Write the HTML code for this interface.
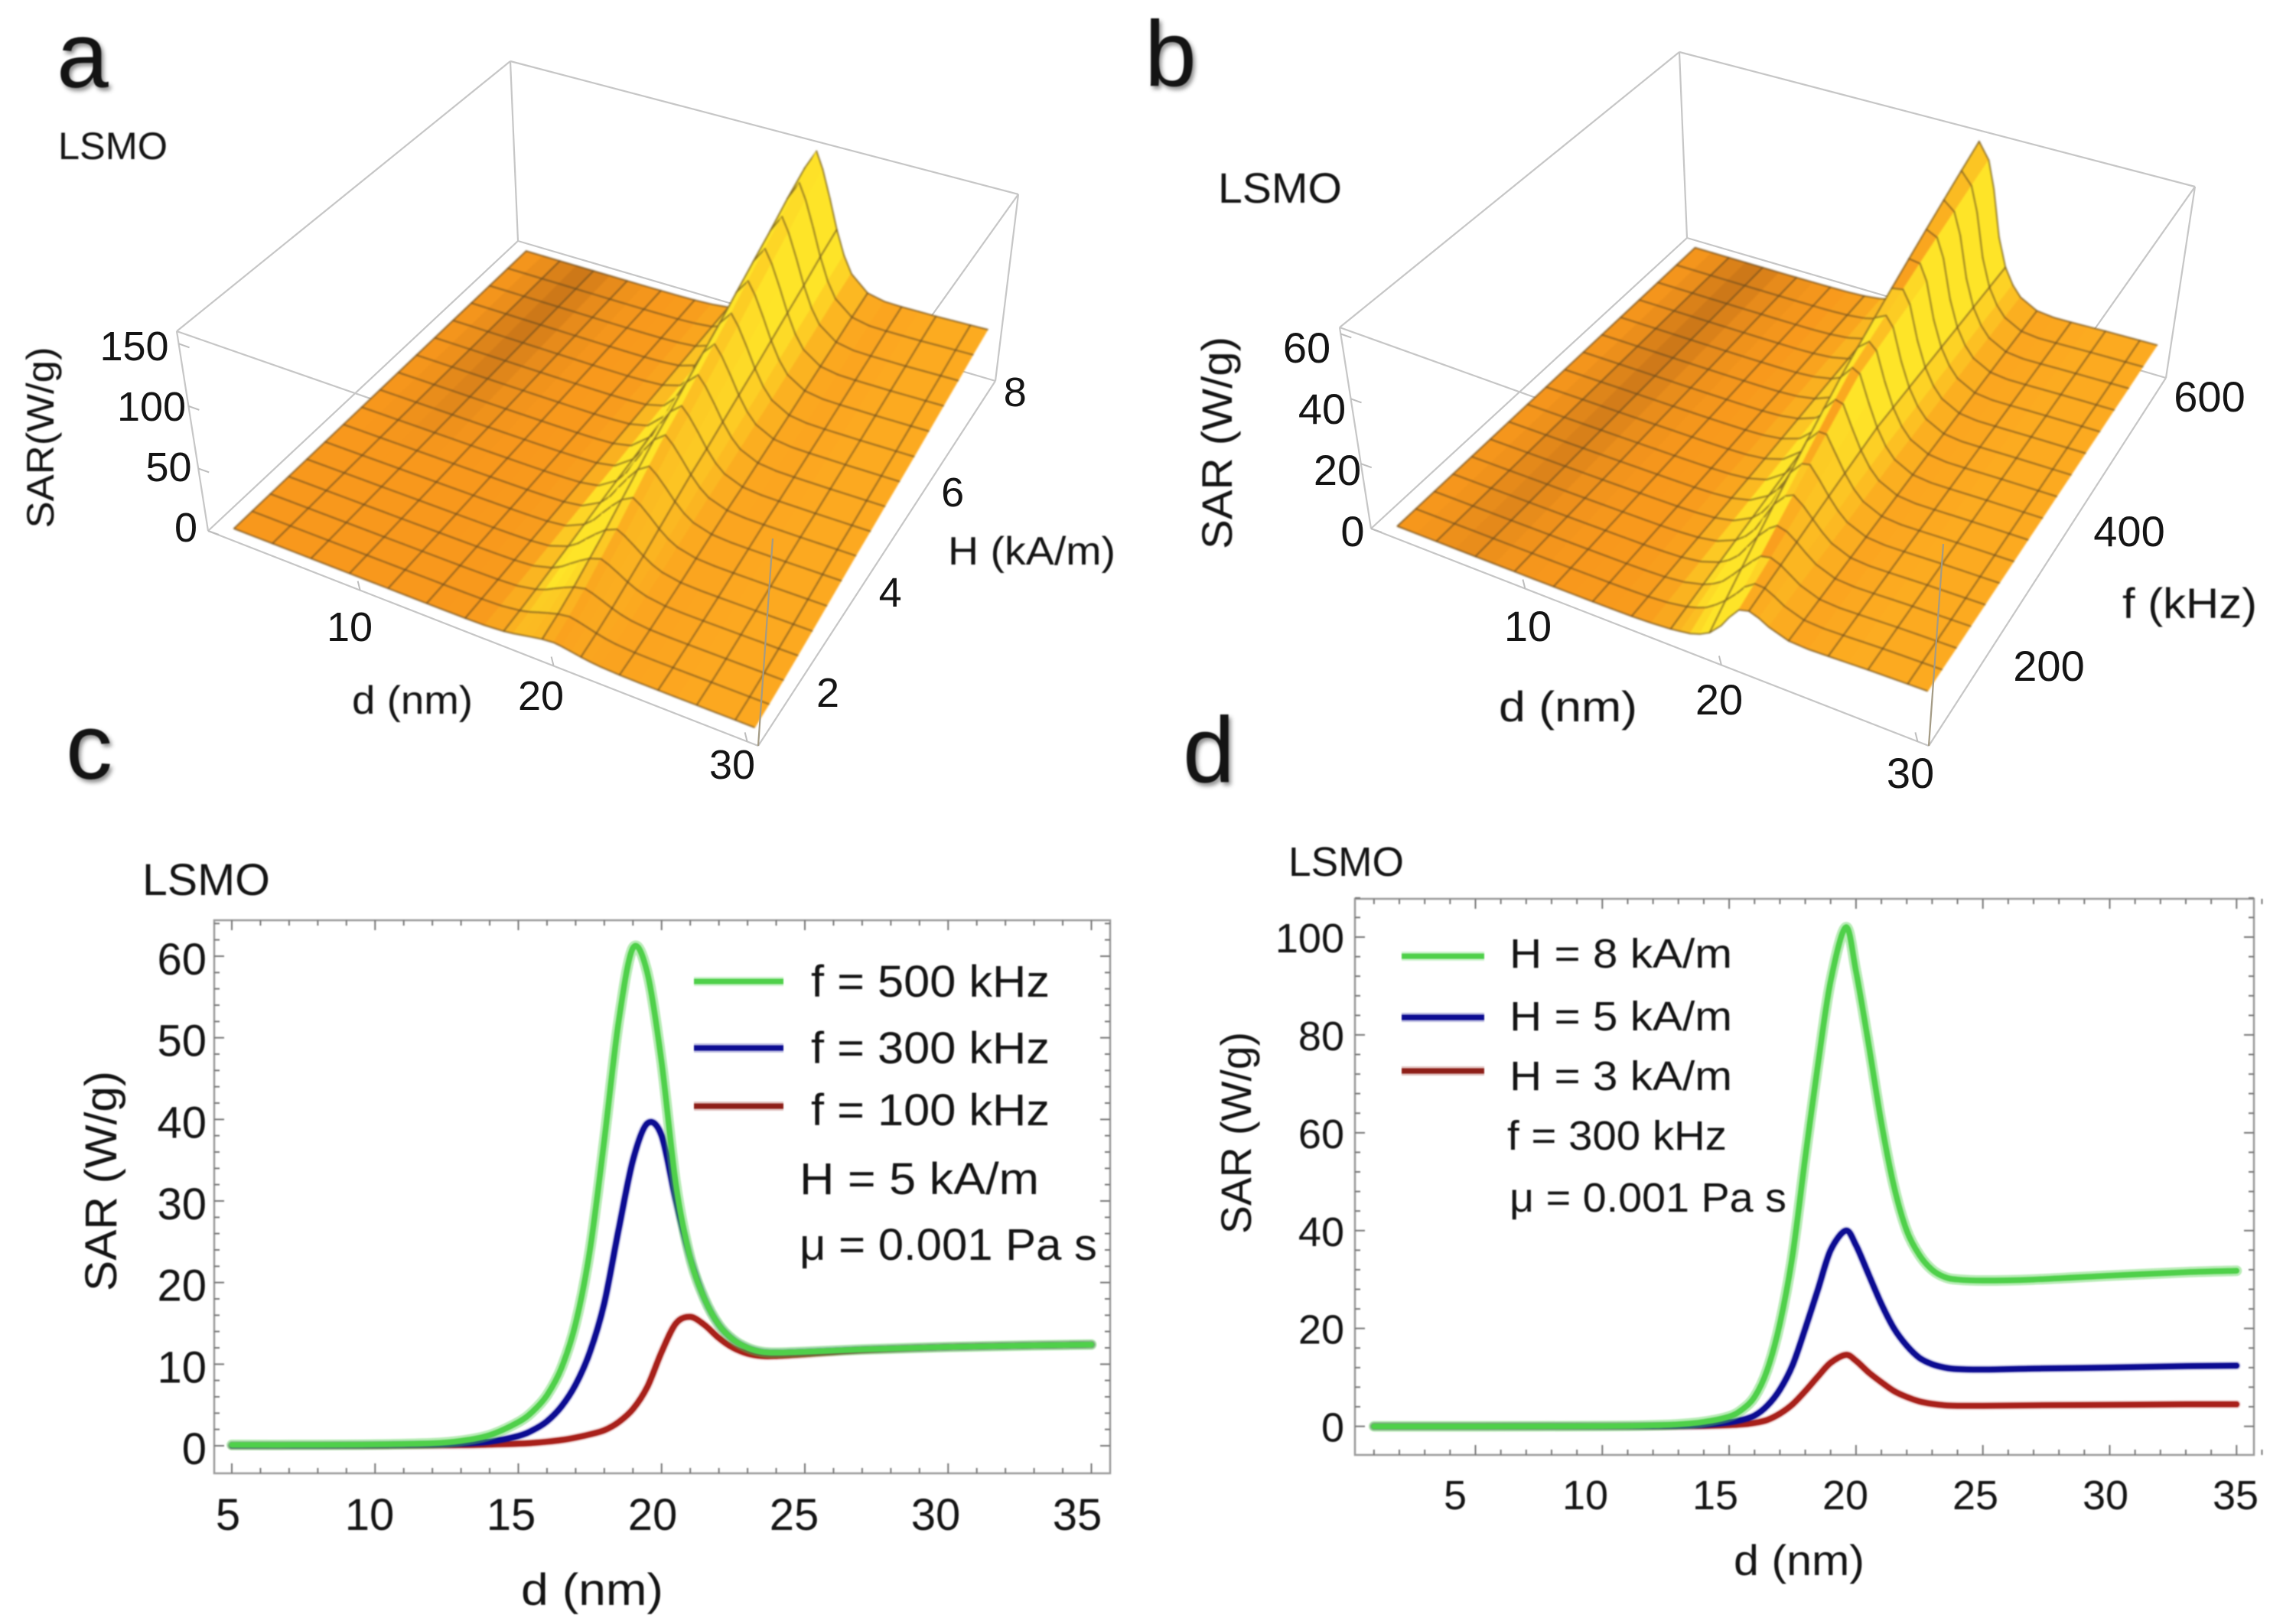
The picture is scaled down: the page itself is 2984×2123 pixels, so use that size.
<!DOCTYPE html>
<html lang="en">
<head>
<meta charset="utf-8">
<title>LSMO SAR figure</title>
<style>
html,body{margin:0;padding:0;background:#fff}
#fig{display:block;width:2984px;height:2123px;background:#fff}
#fig text{font-family:"Liberation Sans",sans-serif;fill:#141414}
.letter{filter:drop-shadow(3px 4px 3px rgba(0,0,0,.45))}
.soft{filter:blur(1px)}
.softer{filter:blur(.7px)}
</style>
</head>
<body>
<svg id="fig" xmlns="http://www.w3.org/2000/svg" width="2984" height="2123" viewBox="0 0 2984 2123">
  <g id="panelA"></g>
  <g id="panelB"></g>
  <g id="panelC"></g>
  <g id="panelD"></g>
  <g class="softer">
    <text class="letter" x="74" y="114" font-size="122">a</text>
    <text class="letter" x="1496" y="112" font-size="122">b</text>
    <text class="letter" x="86" y="1018" font-size="122">c</text>
    <text class="letter" x="1546" y="1022" font-size="122">d</text>

    <text x="76" y="208" font-size="50" textLength="143" lengthAdjust="spacingAndGlyphs">LSMO</text>
    <text x="1592" y="265" font-size="56" textLength="162" lengthAdjust="spacingAndGlyphs">LSMO</text>
    <text x="186" y="1170" font-size="58" textLength="167" lengthAdjust="spacingAndGlyphs">LSMO</text>
    <text x="1684" y="1145" font-size="54" textLength="151" lengthAdjust="spacingAndGlyphs">LSMO</text>

    <text transform="translate(70,572) rotate(-90)" text-anchor="middle" font-size="50" textLength="237" lengthAdjust="spacingAndGlyphs">SAR(W/g)</text>
    <text x="460" y="933" font-size="52" textLength="158" lengthAdjust="spacingAndGlyphs">d (nm)</text>
    <text x="1239" y="738" font-size="52" textLength="219" lengthAdjust="spacingAndGlyphs">H (kA/m)</text>

    <text transform="translate(1610,579) rotate(-90)" text-anchor="middle" font-size="56" textLength="278" lengthAdjust="spacingAndGlyphs">SAR (W/g)</text>
    <text x="1959" y="943" font-size="56" textLength="181" lengthAdjust="spacingAndGlyphs">d (nm)</text>
    <text x="2774" y="808" font-size="56" textLength="176" lengthAdjust="spacingAndGlyphs">f (kHz)</text>

    <text transform="translate(152,1544) rotate(-90)" text-anchor="middle" font-size="58" textLength="288" lengthAdjust="spacingAndGlyphs">SAR (W/g)</text>
    <text x="681" y="2098" font-size="58" textLength="186" lengthAdjust="spacingAndGlyphs">d (nm)</text>
    <text x="1060" y="1303" font-size="58" textLength="312" lengthAdjust="spacingAndGlyphs">f = 500 kHz</text>
    <text x="1060" y="1390" font-size="58" textLength="312" lengthAdjust="spacingAndGlyphs">f = 300 kHz</text>
    <text x="1060" y="1471" font-size="58" textLength="312" lengthAdjust="spacingAndGlyphs">f = 100 kHz</text>
    <text x="1045" y="1561" font-size="58" textLength="313" lengthAdjust="spacingAndGlyphs">H = 5 kA/m</text>
    <text x="1045" y="1647" font-size="58" textLength="389" lengthAdjust="spacingAndGlyphs">μ = 0.001 Pa s</text>

    <text transform="translate(1635,1481) rotate(-90)" text-anchor="middle" font-size="56" textLength="264" lengthAdjust="spacingAndGlyphs">SAR (W/g)</text>
    <text x="2266" y="2059" font-size="56" textLength="171" lengthAdjust="spacingAndGlyphs">d (nm)</text>
    <text x="1973" y="1265" font-size="54" textLength="291" lengthAdjust="spacingAndGlyphs">H = 8 kA/m</text>
    <text x="1973" y="1347" font-size="54" textLength="291" lengthAdjust="spacingAndGlyphs">H = 5 kA/m</text>
    <text x="1973" y="1425" font-size="54" textLength="291" lengthAdjust="spacingAndGlyphs">H = 3 kA/m</text>
    <text x="1970" y="1503" font-size="54" textLength="287" lengthAdjust="spacingAndGlyphs">f = 300 kHz</text>
    <text x="1973" y="1584" font-size="54" textLength="362" lengthAdjust="spacingAndGlyphs">μ = 0.001 Pa s</text>
  </g>
</svg>
<script>
/* ---------- panel c data (H = 5 kA/m) ---------- */
const cD = [5,8,10,12,13,14,15,15.5,16,16.5,17,17.5,18,18.5,19,19.5,20,20.5,21,21.5,22,22.5,23,23.5,24,25,27,30,33,35];
const cF500 = [.1,.1,.15,.3,.6,1.3,2.9,4.2,6.2,9.5,15,24,37.5,52,61,58,47,32,23,18,14.8,13,12,11.5,11.4,11.5,11.8,12.1,12.3,12.4];
const cF300 = [.05,.05,.08,.15,.25,.5,1.2,1.9,3,4.8,7.5,11.5,17.5,26.5,35,39.5,38,30,23,18,14.8,13,12,11.5,11.4,11.5,11.8,12.1,12.3,12.4];
const cF100 = [.02,.02,.03,.06,.08,.15,.25,.35,.5,.7,1,1.4,1.9,2.9,4.5,7.2,11.5,15,15.8,14.8,13.2,12,11.3,11,11,11.2,11.7,12.1,12.3,12.4];
const cXTicks = [5,10,15,20,25,30,35];
const cYTicks = [0,10,20,30,40,50,60];

/* ---------- panel d data (f = 300 kHz) ---------- */
const dD = [1,5,10,12,13,14,15,15.5,16,16.5,17,17.5,18,18.5,19,19.6,20,20.5,21,21.5,22,22.5,23,23.5,24,25,27,30,33,35];
const dH8 = [0,0,.05,.2,.4,.9,2,3.4,6,11.5,21,35,55,74,91,102,93,78,62,49,40,35,32,30.5,30,29.8,30,30.8,31.5,31.8];
const dH5 = [0,0,.02,.06,.12,.3,.8,1.3,2.2,4.2,7.5,12.5,20,28,36,40,37,31,25,20,16.5,14,12.7,12,11.7,11.6,11.8,12,12.3,12.4];
const dH3 = [0,0,.01,.02,.05,.1,.25,.4,.7,1.3,2.6,4.5,7.2,10.2,13,14.6,13.4,11,9,7.2,6,5.1,4.6,4.3,4.2,4.2,4.3,4.4,4.5,4.5];
const dXTicks = [5,10,15,20,25,30,35];
const dYTicks = [0,20,40,60,80,100];

/* ---------- surface data ---------- */
const surfD = [3,4,5,6,7,8,9,10,11,12,13,14,15,16,17,17.5,18,18.5,19,19.6,20,20.5,21,21.5,22,23,24,25,26,27,28,29,30];
const surfShade = [.1,.3,.7,1,.7,.4,.2,.1,0,0,0,0,0,0,0,0,0,0,0,0,0,0,0,0,0,0,0,0,0,0,0,0,0];
const aRowPeak = [.05,.08,.12,.17,.22,.28,.34,.4,.45,.51,.57,.63,.7,.77,.84,.92,.99];
const aRowShade = [0,0,0,0,0,0,.1,.3,.5,.65,.8,.9,1,1,1,1,.8];
const bRowFreq = [100,125,150,175,200,225,250,275,300,325,350,375,400,425,450,475,500];
const bRowShade = [.35,.45,.55,.6,.65,.7,.75,.8,.85,.9,.95,1,1,1,1,1,.85];
const aZTicks = [0,50,100,150];
const bZTicks = [0,20,40,60];
const aHTicks = [2,4,6,8];
const bFTicks = [200,400,600];
const surfDTicks = [10,20,30];

/* ---------- helpers ---------- */
const NS = 'http://www.w3.org/2000/svg';
function mk(parent, tag, attrs, txt){
  const el = document.createElementNS(NS, tag);
  for (const k in attrs) el.setAttribute(k, attrs[k]);
  if (txt !== undefined) el.textContent = txt;
  parent.appendChild(el);
  return el;
}
function interp(xs, ys, x){
  if (x <= xs[0]) return ys[0];
  for (let i = 1; i < xs.length; i++){
    if (x <= xs[i]){
      const t = (x - xs[i-1]) / (xs[i] - xs[i-1]);
      return ys[i-1] + t * (ys[i] - ys[i-1]);
    }
  }
  return ys[ys.length-1];
}
function smoothPath(pts){
  let s = 'M' + pts[0][0].toFixed(1) + ' ' + pts[0][1].toFixed(1);
  for (let i = 0; i < pts.length - 1; i++){
    const p0 = pts[Math.max(0,i-1)], p1 = pts[i], p2 = pts[i+1], p3 = pts[Math.min(pts.length-1,i+2)];
    const k = 0.16;
    s += ' C' + (p1[0]+(p2[0]-p0[0])*k).toFixed(1) + ' ' + (p1[1]+(p2[1]-p0[1])*k).toFixed(1) +
         ' ' + (p2[0]-(p3[0]-p1[0])*k).toFixed(1) + ' ' + (p2[1]-(p3[1]-p1[1])*k).toFixed(1) +
         ' ' + p2[0].toFixed(1) + ' ' + p2[1].toFixed(1);
  }
  return s;
}

/* ---------- 2D charts ---------- */
function drawCurve(g, xs, ys, sx, sy, color, name, haloWidth, haloOpacity){
  const pts = xs.map((d,i) => [sx(d), sy(ys[i])]);
  const d = smoothPath(pts);
  const halo = mk(g, 'path', {d:d, fill:'none', stroke:color, 'stroke-width':haloWidth, 'stroke-opacity':haloOpacity, 'stroke-linecap':'round'});
  
  
  const line = mk(g, 'path', {d:d, fill:'none', stroke:color, 'stroke-width':7.5, 'stroke-linecap':'round'});
  
  
}
function drawLegendLine(g, x1, x2, y, color, name){
  const halo = mk(g, 'line', {x1:x1, x2:x2, y1:y, y2:y, stroke:color, 'stroke-width':12, 'stroke-opacity':.28});
  
  
  const l = mk(g, 'line', {x1:x1, x2:x2, y1:y, y2:y, stroke:color, 'stroke-width':7});
  
  
}
function drawFrame(g, box, sx, sy, xMajor, yMajor, xMin, xMax, xStep, yMin, yMax, yStep){
  const fr = mk(g, 'rect', {x:box.x0, y:box.y0, width:box.x1-box.x0, height:box.y1-box.y0, fill:'none', stroke:'#9a9a9a', 'stroke-width':2.5});
  
  
  for (let v = xMin; v <= xMax + 1e-6; v += xStep){
    const x = sx(v);
    const L = xMajor.includes(v) ? 13 : 7;
    const t = mk(g, 'path', {d:'M'+x+' '+box.y1+'v'+(-L)+'M'+x+' '+box.y0+'v'+L, stroke:'#777', 'stroke-width':2, fill:'none'});
    
    
  }
  for (let v = yMin; v <= yMax + 1e-6; v += yStep){
    const y = sy(v);
    const L = yMajor.includes(v) ? 13 : 7;
    const t = mk(g, 'path', {d:'M'+box.x0+' '+y+'h'+L+'M'+box.x1+' '+y+'h'+(-L), stroke:'#777', 'stroke-width':2, fill:'none'});
    
    
  }
}

/* panel c */
(function(){
  const g = document.getElementById('panelC');
  g.setAttribute('class', 'softer');
  const sx = d => 303 + 37.45 * (d - 5);
  const sy = v => 1890 - 10.667 * v;
  const lx = d => 298 + 37.0 * (d - 5);
  const box = {x0:280, x1:1451, y0:1203, y1:1926};
  drawFrame(g, box, sx, sy, cXTicks, cYTicks, 5, 35, 1, 0, 64, 2);
  cXTicks.forEach(v => {
    const t = mk(g, 'text', {x:lx(v), y:2000, 'text-anchor':'middle', 'font-size':58}, v);
    
    
  });
  cYTicks.forEach(v => {
    const t = mk(g, 'text', {x:270, y:sy(v) + 24, 'text-anchor':'end', 'font-size':58}, v);
    
    
  });
  drawCurve(g, cD, cF100, sx, sy, '#a8201a', 'curve-f-100', 11, .22);
  drawCurve(g, cD, cF300, sx, sy, '#0c0c92', 'curve-f-300', 11, .22);
  drawCurve(g, cD, cF500, sx, sy, '#4fd04a', 'curve-f-500', 14, .4);
  drawLegendLine(g, 907, 1024, 1283, '#4fd04a', 'legend-line-f-500');
  drawLegendLine(g, 907, 1024, 1370, '#0c0c92', 'legend-line-f-300');
  drawLegendLine(g, 907, 1024, 1446, '#8e1f18', 'legend-line-f-100');
})();

/* panel d */
(function(){
  const g = document.getElementById('panelD');
  g.setAttribute('class', 'softer');
  const sx = d => 1928.5 + 33.16 * (d - 5);
  const sy = v => 1864.6 - 6.396 * v;
  const lx = d => 1902 + 34 * (d - 5);
  const box = {x0:1771, x1:2946, y0:1175, y1:1902};
  drawFrame(g, box, sx, sy, dXTicks, dYTicks, 1, 36, 1, 0, 108, 4);
  dXTicks.forEach(v => {
    const t = mk(g, 'text', {x:lx(v), y:1973, 'text-anchor':'middle', 'font-size':54}, v);
    
    
  });
  dYTicks.forEach(v => {
    const t = mk(g, 'text', {x:1757, y:sy(v) + 20, 'text-anchor':'end', 'font-size':54}, v);
    
    
  });
  drawCurve(g, dD, dH3, sx, sy, '#a8201a', 'curve-h-3', 11, .22);
  drawCurve(g, dD, dH5, sx, sy, '#0c0c92', 'curve-h-5', 11, .22);
  drawCurve(g, dD, dH8, sx, sy, '#4fd04a', 'curve-h-8', 14, .4);
  drawLegendLine(g, 1832, 1940, 1250, '#4fd04a', 'legend-line-h-8');
  drawLegendLine(g, 1832, 1940, 1330, '#0c0c92', 'legend-line-h-5');
  drawLegendLine(g, 1832, 1940, 1400, '#8e1f18', 'legend-line-h-3');
})();

/* ---------- 3D surfaces ---------- */
function mix(a, b, t){ return [a[0]+(b[0]-a[0])*t, a[1]+(b[1]-a[1])*t, a[2]+(b[2]-a[2])*t]; }
function drawSurface(g, cube, zAt, rowShade, tickCfg){
  const lerp = (p, q, t) => [p[0]+(q[0]-p[0])*t, p[1]+(q[1]-p[1])*t];
  const face = (f, u, v) => lerp(lerp(f.L, f.B, u), lerp(f.K, f.R, u), v);
  const proj = (u, v, z) => lerp(face(cube.floor, u, v), face(cube.top, u, v), z);
  const uOf = d => .03 + .95 * (d - 3) / 27;
  const rows = rowShade.length;
  const vOf = j => .03 + .95 * j / (rows - 1);
  const edge = (a, b, name, color) => {
    const l = mk(g, 'line', {x1:a[0], y1:a[1], x2:b[0], y2:b[1], stroke:color || '#c6c6c6', 'stroke-width':2.2});
    
    
  };
  const f = cube.floor, t = cube.top;
  edge(t.L, t.K, 'box-edge');
  edge(t.K, t.R, 'box-edge');
  edge(t.K, f.K, 'box-edge');
  edge(t.L, f.L, 'box-edge');
  edge(t.R, f.R, 'box-edge');
  edge(t.L, t.B, 'box-edge');
  edge(t.R, t.B, 'box-edge');
  edge(f.L, f.B, 'box-edge');
  edge(f.B, f.R, 'box-edge');
  edge(f.L, f.K, 'box-edge');
  edge(f.K, f.R, 'box-edge');

  const base = [248,152,28], yellow = [254,228,40], dark = [176,98,22], light = [252,168,32];
  const meshColor = '#5a4320';
  const surf = mk(g, 'g', {class:'soft'});
  
  
  for (let j = rows - 2; j >= 0; j--){
    for (let i = 0; i < surfD.length - 1; i++){
      const z00 = zAt(i, j), z10 = zAt(i+1, j), z01 = zAt(i, j+1), z11 = zAt(i+1, j+1);
      const du = uOf(surfD[i+1]) - uOf(surfD[i]);
      const s = ((z10 - z00) + (z11 - z01)) / 2 / du;
      let c = mix(base, light, Math.min(1, Math.max(0, (surfD[i] - 16) / 10)));
      if (s > 0) c = mix(c, yellow, Math.min(1, s * .62));
      else c = mix(c, yellow, Math.min(1, -s * .16));
      c = mix(c, dark, surfShade[i] * rowShade[j] * .6);
      const col = 'rgb(' + c.map(x => Math.round(x)).join(',') + ')';
      const pts = [proj(uOf(surfD[i]), vOf(j), z00), proj(uOf(surfD[i+1]), vOf(j), z10), proj(uOf(surfD[i+1]), vOf(j+1), z11), proj(uOf(surfD[i]), vOf(j+1), z01)];
      const cell = mk(surf, 'polygon', {points:pts.map(p => p[0].toFixed(1)+','+p[1].toFixed(1)).join(' '), fill:col, stroke:col, 'stroke-width':1.2});
      
      
      /* mesh along the far edge of this cell */
      const far = mk(surf, 'line', {x1:pts[3][0], y1:pts[3][1], x2:pts[2][0], y2:pts[2][1], stroke:meshColor, 'stroke-opacity':.7, 'stroke-width':1.8, 'stroke-linecap':'round'});
      
      
      /* column mesh line on this cell's left side */
      if (surfD[i] % 2 === 1){
        const m = mk(surf, 'line', {x1:pts[0][0], y1:pts[0][1], x2:pts[3][0], y2:pts[3][1], stroke:meshColor, 'stroke-opacity':.7, 'stroke-width':1.8});
        
        
      }
    }
  }
  const frontRow = surfD.map((d, i) => proj(uOf(d), vOf(0), zAt(i, 0)));
  const fr = mk(surf, 'polyline', {points:frontRow.map(p => p[0].toFixed(1)+','+p[1].toFixed(1)).join(' '), fill:'none', stroke:meshColor, 'stroke-opacity':.7, 'stroke-width':1.8});
  
  
  edge(t.B, f.B, 'box-edge-front', '#a39a84');

  /* ticks */
  tickCfg.zTicks.forEach(v => {
    const p = lerp(f.L, t.L, v / tickCfg.zMax);
    const m = mk(g, 'line', {x1:p[0], y1:p[1], x2:p[0]+14, y2:p[1]+5, stroke:'#bdbdbd', 'stroke-width':2});
    
    
    const lp = tickCfg.zLabel(v);
    const l = mk(g, 'text', {x:lp[0], y:lp[1], 'text-anchor':'middle', 'font-size':tickCfg.size}, v);
    
    
  });
  surfDTicks.forEach(v => {
    const p = lerp(f.L, f.B, uOf(v));
    const m = mk(g, 'line', {x1:p[0], y1:p[1], x2:p[0]-3, y2:p[1]-12, stroke:'#bdbdbd', 'stroke-width':2});
    
    
    const lp = tickCfg.dLabel(v);
    const l = mk(g, 'text', {x:lp[0], y:lp[1], 'text-anchor':'middle', 'font-size':tickCfg.size}, v);
    
    
  });
  tickCfg.rTicks.forEach(v => {
    const lp = tickCfg.rLabel(v);
    const l = mk(g, 'text', {x:lp[0], y:lp[1], 'text-anchor':'middle', 'font-size':tickCfg.size}, v);
    
    
  });
}

/* panel a */
(function(){
  const g = document.getElementById('panelA');
  const cube = {
    floor:{L:[272,694], B:[991,975], R:[1301,498], K:[677,315]},
    top:{L:[231,433], B:[1010,704], R:[1331,254], K:[667,80]}
  };
  const peak = Math.max.apply(null, dH8);
  const zAt = (i, j) => interp(dD, dH8, surfD[i]) / peak * aRowPeak[j];
  drawSurface(g, cube, zAt, aRowShade, {
    zTicks:aZTicks, zMax:160, size:54,
    zLabel:v => [243 - v * .45, 708 - v * 1.58],
    dLabel:v => [457 + (v - 10) * 25, 838 + (v - 10) * 9],
    rTicks:aHTicks,
    rLabel:v => [1082 + (v - 2) * 40.8, 924 - (v - 2) * 65.5]
  });
})();

/* panel b */
(function(){
  const g = document.getElementById('panelB');
  const cube = {
    floor:{L:[1792,691], B:[2521,975], R:[2831,494], K:[2205,311]},
    top:{L:[1751,428], B:[2540,711], R:[2869,244], K:[2195,68]}
  };
  const zAt = (i, j) => {
    const d = surfD[i], f = bRowFreq[j];
    const a = interp(cD, cF100, d), b = interp(cD, cF300, d), c = interp(cD, cF500, d);
    const w = f <= 300 ? a + (b - a) * (f - 100) / 200 : b + (c - b) * (f - 300) / 200;
    return w / 62;
  };
  drawSurface(g, cube, zAt, bRowShade, {
    zTicks:bZTicks, zMax:62, size:56,
    zLabel:v => [1768 - v * 1.0, 714 - v * 4.0],
    dLabel:v => [1997 + (v - 10) * 25, 838 + (v - 10) * 9.6],
    rTicks:bFTicks,
    rLabel:v => [2678 + (v - 200) * .525, 890 - (v - 200) * .88]
  });
})();
</script>
</body>
</html>
